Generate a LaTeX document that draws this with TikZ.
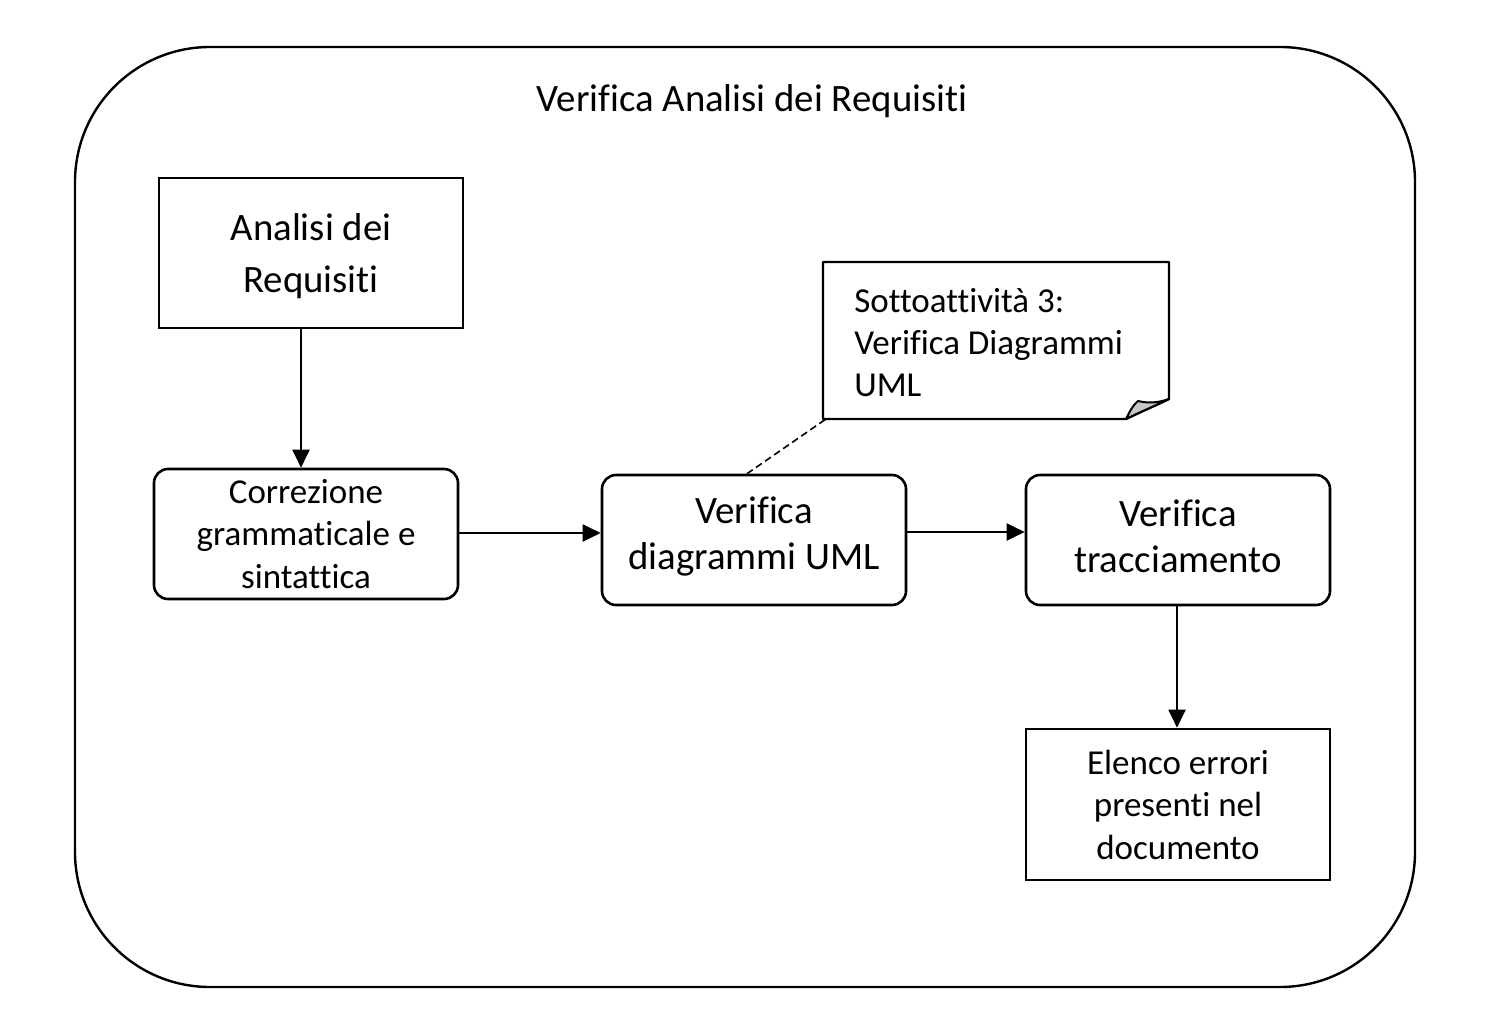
\documentclass[tikz,border=0pt]{standalone}
\usepackage{fontspec}
\setmainfont{Carlito}[Ligatures=NoCommon]
\usetikzlibrary{arrows.meta}
\begin{document}
\begin{tikzpicture}[x=1pt,y=-1pt,
  line width=2.6pt,
  sq/.style={draw, rectangle, minimum width=304pt, minimum height=150pt, align=center, inner sep=0pt},
  rbox/.style={draw, rectangle, rounded corners=14pt, minimum width=304pt, minimum height=130pt, align=center, inner sep=0pt},
  txt/.style={align=center, inner sep=0pt},
  big/.style={font=\fontsize{38.8}{46}\selectfont},
  mid/.style={font=\fontsize{35}{42.5}\selectfont},
  arr/.style={-{Triangle[length=18pt,width=17pt]}, line width=2pt}]
\useasboundingbox (0,0) rectangle (1510,1036);
\draw[line width=2.4pt, rounded corners=135pt] (75,47) rectangle (1415,987);
\node[big] (title) at (752,101) {Verifica Analisi dei Requisiti};
\node[sq] (A) at (311,253) {};
\node[txt, font=\fontsize{38.8}{52}\selectfont] (At) at ([yshift=-3pt]A.center) {Analisi dei\\Requisiti};
\node[rbox, mid] (B) at (306,534) {Correzione\\grammaticale e\\sintattica};
\node[rbox] (C) at (754,540) {};
\node[txt, big] (Ct) at ([yshift=4pt]C.center) {Verifica\\diagrammi UML};
\node[rbox] (D) at (1178,540) {};
\node[txt, big] (Dt) at ([yshift=4pt]D.center) {Verifica\\tracciamento};
\node[sq, mid, minimum height=151pt] (E) at (1178,804.5) {Elenco errori\\presenti nel\\documento};
% note
\draw[line width=2.4pt, line join=round] (823,262) -- (1169,262) -- (1169,399) .. controls (1150,408) and (1138,413) .. (1126,419) -- (823,419) -- cycle;
\draw[line width=2pt, line join=round, fill=black!22] (1126,419) .. controls (1130,411) and (1133,405) .. (1138,401) .. controls (1150,404) and (1160,402) .. (1169,399) .. controls (1150,408) and (1138,413) .. (1126,419) -- cycle;
\node[font=\fontsize{35}{42}\selectfont, align=left, anchor=north west, inner sep=0pt] (N) at (853,287) {Sottoattività 3:\\Verifica Diagrammi\\UML};
\coordinate (nb) at (826,419);
% connectors
\draw[arr] (A.south -| 301,0) -- (B.north -| 301,0);
\draw[arr] (B.east |- 0,533) -- (C.west |- 0,533);
\draw[arr] (C.east |- 0,532) -- (D.west |- 0,532);
\draw[arr] (D.south -| 1177,0) -- (E.north -| 1177,0);
\draw[line width=1.6pt, dashed, dash pattern=on 7pt off 4pt] (C.north -| 747,0) -- (nb);
\end{tikzpicture}
\end{document}
